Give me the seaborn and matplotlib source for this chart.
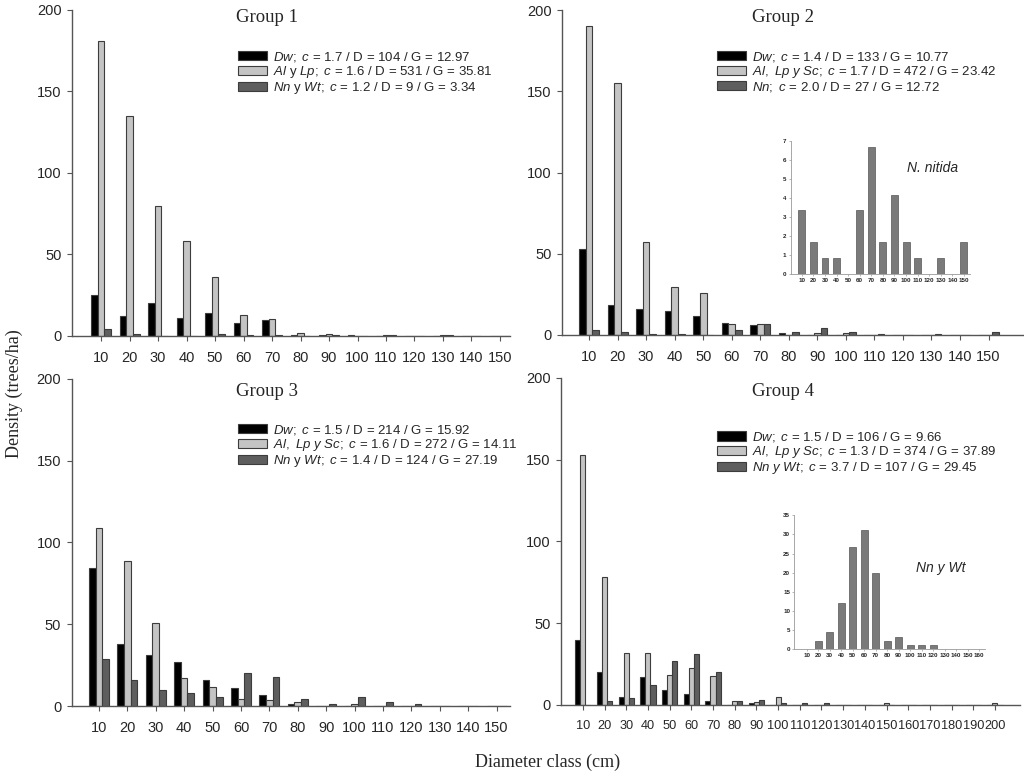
import numpy as np
import pandas as pd
import matplotlib.pyplot as plt
from matplotlib.patches import Patch
import seaborn as sns

# diameter classes (cm)
classes_15 = ['10', '20', '30', '40', '50', '60', '70', '80', '90', '100',
              '110', '120', '130', '140', '150']
classes_20 = ['10', '20', '30', '40', '50', '60', '70', '80', '90', '100',
              '110', '120', '130', '140', '150', '160', '170', '180', '190', '200']
classes_16 = ['10', '20', '30', '40', '50', '60', '70', '80', '90', '100',
              '110', '120', '130', '140', '150', '160']

# Group 1
g1_dw = [25, 12.4, 20, 11.2, 14.3, 8.2, 10, 0.6, 0.6, 0.8, 0, 0, 0, 0, 0]
g1_al = [181, 135, 80, 58, 36, 13, 10.6, 2, 1.2, 0, 0.6, 0, 0.6, 0, 0]
g1_nn = [4, 1.2, 0, 0, 1.2, 0.6, 0.6, 0, 0.6, 0, 0.6, 0, 0.6, 0, 0]
g1_labels = [r'$\mathit{Dw;}$ $\mathit{c}$ = 1.7 / D = 104 / G = 12.97',
             r'$\mathit{Al}$ y $\mathit{Lp;}$ $\mathit{c}$ = 1.6 / D = 531 / G = 35.81',
             r'$\mathit{Nn}$ y $\mathit{Wt;}$ $\mathit{c}$ = 1.2 / D = 9 / G = 3.34']

# Group 2
g2_dw = [53, 18.3, 15.9, 14.9, 11.8, 7.5, 5.9, 1, 0, 0, 0, 0, 0, 0, 0]
g2_al = [190, 155, 57, 29.6, 25.9, 6.5, 6.7, 0, 1, 1, 0, 0, 0, 0, 0]
g2_nn = [3.35, 1.67, 0.83, 0.83, 0, 3.35, 6.67, 1.67, 4.17, 1.67, 0.83, 0, 0.83, 0, 1.67]
g2_labels = [r'$\mathit{Dw;}$ $\mathit{c}$ = 1.4 / D = 133 / G = 10.77',
             r'$\mathit{Al,}$ $\mathit{Lp}$ $\mathit{y}$ $\mathit{Sc;}$ $\mathit{c}$ = 1.7 / D = 472 / G = 23.42',
             r'$\mathit{Nn;}$ $\mathit{c}$ = 2.0 / D = 27 / G = 12.72']

# Group 3
g3_dw = [84.6, 37.9, 31, 26.9, 15.7, 11.2, 6.7, 1.2, 0, 0, 0, 0, 0, 0, 0]
g3_al = [109, 88.7, 51, 17, 11.4, 4.5, 3.5, 2.4, 0, 1.2, 0, 0, 0, 0, 0]
g3_nn = [29, 16, 10, 8, 5.7, 20.2, 17.9, 4.5, 1.2, 5.7, 2.4, 1.2, 0, 0, 0]
g3_labels = [r'$\mathit{Dw;}$ $\mathit{c}$ = 1.5 / D = 214 / G = 15.92',
             r'$\mathit{Al,}$ $\mathit{Lp}$ $\mathit{y}$ $\mathit{Sc;}$ $\mathit{c}$ = 1.6 / D = 272 / G = 14.11',
             r'$\mathit{Nn}$ y $\mathit{Wt;}$ $\mathit{c}$ = 1.4 / D = 124 / G = 27.19']

# Group 4
g4_dw = [40, 20.4, 4.7, 17, 9.2, 6.9, 2.6, 0, 1.2, 0, 0, 0, 0, 0, 0, 0, 0, 0, 0, 0]
g4_al = [153, 78, 31.6, 31.6, 18.1, 22.6, 17.9, 2.4, 2, 4.7, 0, 0, 0, 0, 1, 0, 0, 0, 0, 1]
g4_nn = [0, 2.2, 4.4, 12.2, 26.7, 31.1, 20, 2.2, 3.3, 1.1, 1.1, 1.1, 0, 0, 0, 0, 0, 0, 0, 0]
g4_labels = [r'$\mathit{Dw;}$ $\mathit{c}$ = 1.5 / D = 106 / G = 9.66',
             r'$\mathit{Al,}$ $\mathit{Lp}$ $\mathit{y}$ $\mathit{Sc;}$ $\mathit{c}$ = 1.3 / D = 374 / G = 37.89',
             r'$\mathit{Nn}$ $\mathit{y}$ $\mathit{Wt;}$ $\mathit{c}$ = 3.7 / D = 107 / G = 29.45']

# insets
inset2_vals = [3.35, 1.67, 0.83, 0.83, 0, 3.35, 6.67, 1.67, 4.17, 1.67, 0.83, 0, 0.83, 0, 1.67]
inset4_vals = [0, 2.2, 4.4, 12.2, 26.7, 31.1, 20, 2.2, 3.3, 1.1, 1.1, 1.1, 0, 0, 0, 0]

colors = ['#000000', '#c4c4c4', '#5e5e5e']

sns.set_style('ticks')
plt.rcParams['font.family'] = ['Liberation Sans', 'DejaVu Sans']
plt.rcParams['mathtext.fontset'] = 'custom'
plt.rcParams['mathtext.rm'] = 'Liberation Sans'
plt.rcParams['mathtext.it'] = 'Liberation Sans:italic'

fig = plt.figure(figsize=(10.24, 7.79), dpi=100)


def panel(pos, classes, dw, al, nn, labels, xlim, title, title_xy, leg_xy, xsize=10.5):
    ax = fig.add_axes(pos)
    df = pd.DataFrame({
        'cls': classes * 3,
        'density': dw + al + nn,
        'sp': ['dw'] * len(classes) + ['al'] * len(classes) + ['nn'] * len(classes),
    })
    sns.barplot(data=df, x='cls', y='density', hue='sp', order=classes,
                hue_order=['dw', 'al', 'nn'], palette=colors, width=0.7,
                errorbar=None, legend=False, ax=ax,
                edgecolor='#3c3c3c', linewidth=0.8)
    ax.set_xlim(*xlim)
    ax.set_ylim(0, 200)
    ax.set_yticks([0, 50, 100, 150, 200])
    ax.set_xlabel('')
    ax.set_ylabel('')
    for s in ['top', 'right']:
        ax.spines[s].set_visible(False)
    for s in ['left', 'bottom']:
        ax.spines[s].set_color('#555555')
        ax.spines[s].set_linewidth(1)
    ax.tick_params(axis='x', length=3.5, pad=7, labelsize=xsize, color='#555555')
    ax.tick_params(axis='y', length=3.5, pad=4, labelsize=10.5, color='#555555')
    fig.text(title_xy[0], title_xy[1], title, family='Liberation Serif',
             fontsize=13.5, ha='center', va='center')
    handles = [Patch(facecolor=c, edgecolor='#3c3c3c', linewidth=0.8) for c in colors]
    ax.legend(handles, labels, loc='upper left', bbox_to_anchor=leg_xy,
              bbox_transform=fig.transFigure, frameon=False, fontsize=9.5,
              handlelength=2.2, handleheight=0.7, handletextpad=0.5,
              labelspacing=0.0, borderpad=0, borderaxespad=0)
    return ax


ax1 = panel([0.0703, 0.5687, 0.4277, 0.4185], classes_15, g1_dw, g1_al, g1_nn,
            g1_labels, (-1.02, 14.35), 'Group 1', (0.261, 0.977), (0.232, 0.936))
ax2 = panel([0.5488, 0.570, 0.450, 0.417], classes_15, g2_dw, g2_al, g2_nn,
            g2_labels, (-0.95, 15.2), 'Group 2', (0.765, 0.977), (0.700, 0.936))
ax3 = panel([0.070, 0.0937, 0.428, 0.4198], classes_15, g3_dw, g3_al, g3_nn,
            g3_labels, (-0.96, 14.47), 'Group 3', (0.261, 0.497), (0.232, 0.457))
ax4 = panel([0.548, 0.095, 0.448, 0.42], classes_20, g4_dw, g4_al, g4_nn,
            g4_labels, (-1.0, 20.15), 'Group 4', (0.765, 0.497), (0.700, 0.448),
            xsize=9.2)


def inset(pos, classes, vals, ymax, yticks, xlim, label, label_xy):
    ins = fig.add_axes(pos)
    sns.barplot(x=classes, y=vals, color='#7a7a7a', width=0.6, ax=ins,
                edgecolor='#555555', linewidth=0.5)
    ins.set_xlim(*xlim)
    ins.set_ylim(0, ymax)
    ins.set_yticks(yticks)
    ins.set_facecolor('none')
    for s in ['top', 'right']:
        ins.spines[s].set_visible(False)
    for s in ['left', 'bottom']:
        ins.spines[s].set_color('#999999')
        ins.spines[s].set_linewidth(0.6)
    ins.tick_params(length=1.5, width=0.5, pad=1.5, labelsize=4.5, color='#999999')
    for t in ins.get_xticklabels() + ins.get_yticklabels():
        t.set_fontweight('bold')
    fig.text(label_xy[0], label_xy[1], label, style='italic', fontsize=10,
             ha='left', va='center')
    return ins


inset([0.772, 0.648, 0.175, 0.1715], classes_15, inset2_vals, 7,
      [0, 1, 2, 3, 4, 5, 6, 7], (-0.98, 14.5), 'N. nitida', (0.886, 0.784))
inset([0.7757, 0.1665, 0.186, 0.172], classes_16, inset4_vals, 35,
      [0, 5, 10, 15, 20, 25, 30, 35], (-1.08, 15.5), 'Nn y Wt', (0.895, 0.271))

fig.text(0.014, 0.495, 'Density (trees/ha)', family='Liberation Serif',
         fontsize=13, rotation=90, ha='center', va='center')
fig.text(0.535, 0.021, 'Diameter class (cm)', family='Liberation Serif',
         fontsize=13, ha='center', va='center')

fig.savefig('out.png', dpi=100)
